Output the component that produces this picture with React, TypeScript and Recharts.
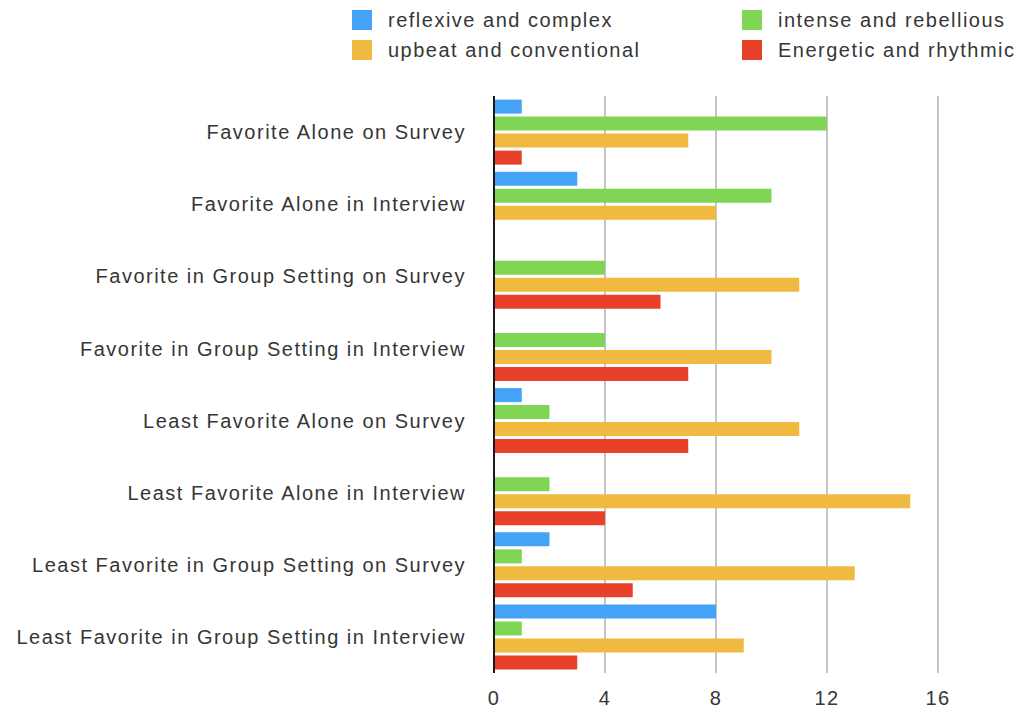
import React from "react";
import { BarChart, Bar, XAxis, YAxis, CartesianGrid } from "recharts";

const categories = [
  "Favorite Alone on Survey",
  "Favorite Alone in Interview",
  "Favorite in Group Setting on Survey",
  "Favorite in Group Setting in Interview",
  "Least Favorite Alone on Survey",
  "Least Favorite Alone in Interview",
  "Least Favorite in Group Setting on Survey",
  "Least Favorite in Group Setting in Interview",
];

const reflexive = [1, 3, 0, 0, 1, 0, 2, 8];
const intense = [12, 10, 4, 4, 2, 2, 1, 1];
const upbeat = [7, 8, 11, 10, 11, 15, 13, 9];
const energetic = [1, 0, 6, 7, 7, 4, 5, 3];

const xTicks = [0, 4, 8, 12, 16];

const series = [
  { key: "reflexive", name: "reflexive and complex", color: "#44a3f7" },
  { key: "intense", name: "intense and rebellious", color: "#80d555" },
  { key: "upbeat", name: "upbeat and conventional", color: "#f0ba41" },
  { key: "energetic", name: "Energetic and rhythmic", color: "#e9402a" },
];

const data = categories.map((name, i) => ({
  name,
  reflexive: reflexive[i],
  intense: intense[i],
  upbeat: upbeat[i],
  energetic: energetic[i],
}));

const FONT = "'Liberation Sans', Arial, Helvetica, sans-serif";
const TEXT = "#363636";

const tickStyle = {
  fill: TEXT,
  fontSize: 20,
  fontFamily: FONT,
  letterSpacing: 1.5,
  style: { letterSpacing: "1.5px" },
};

// two-column legend above the plot
const LegendBox: React.FC = () => (
  <div
    style={{
      position: "absolute",
      top: 10,
      left: 352,
      display: "grid",
      gridTemplateColumns: "390px 280px",
      rowGap: 10,
      fontFamily: FONT,
      fontSize: 20,
      letterSpacing: "1.5px",
      color: TEXT,
    }}
  >
    {series.map((s) => (
      <div key={s.key} style={{ display: "flex", alignItems: "center", height: 20, whiteSpace: "nowrap" }}>
        <span
          style={{ width: 20, height: 20, background: s.color, display: "inline-block", marginRight: 16 }}
        />
        <span>{s.name}</span>
      </div>
    ))}
  </div>
);

export default function App() {
  return (
    <div
      style={{
        position: "relative",
        width: 1015,
        height: 706,
        paddingLeft: 8,
        paddingTop: 8,
        fontFamily: FONT,
      }}
    >
      <style>{"body { margin: 0; }"}</style>
      <LegendBox />
      <BarChart
        width={1007}
        height={706}
        data={data}
        layout="vertical"
        margin={{ top: 88, right: 77, bottom: 11, left: 0 }}
        barCategoryGap="5%"
        barGap={3}
      >
        <CartesianGrid horizontal={false} stroke="#c6c6c6" strokeWidth={2} />
        <XAxis
          type="number"
          domain={[0, 16]}
          ticks={xTicks}
          axisLine={false}
          tickLine={false}
          tickSize={0}
          tickMargin={18}
          height={30}
          tick={tickStyle}
        />
        <YAxis
          type="category"
          dataKey="name"
          width={486}
          tickLine={false}
          tickSize={0}
          tickMargin={28}
          axisLine={{ stroke: "#1a1a1a", strokeWidth: 2 }}
          tick={tickStyle}
          interval={0}
        />
        {series.map((s) => (
          <Bar key={s.key} dataKey={s.key} name={s.name} fill={s.color} isAnimationActive={false} />
        ))}
      </BarChart>
    </div>
  );
}
